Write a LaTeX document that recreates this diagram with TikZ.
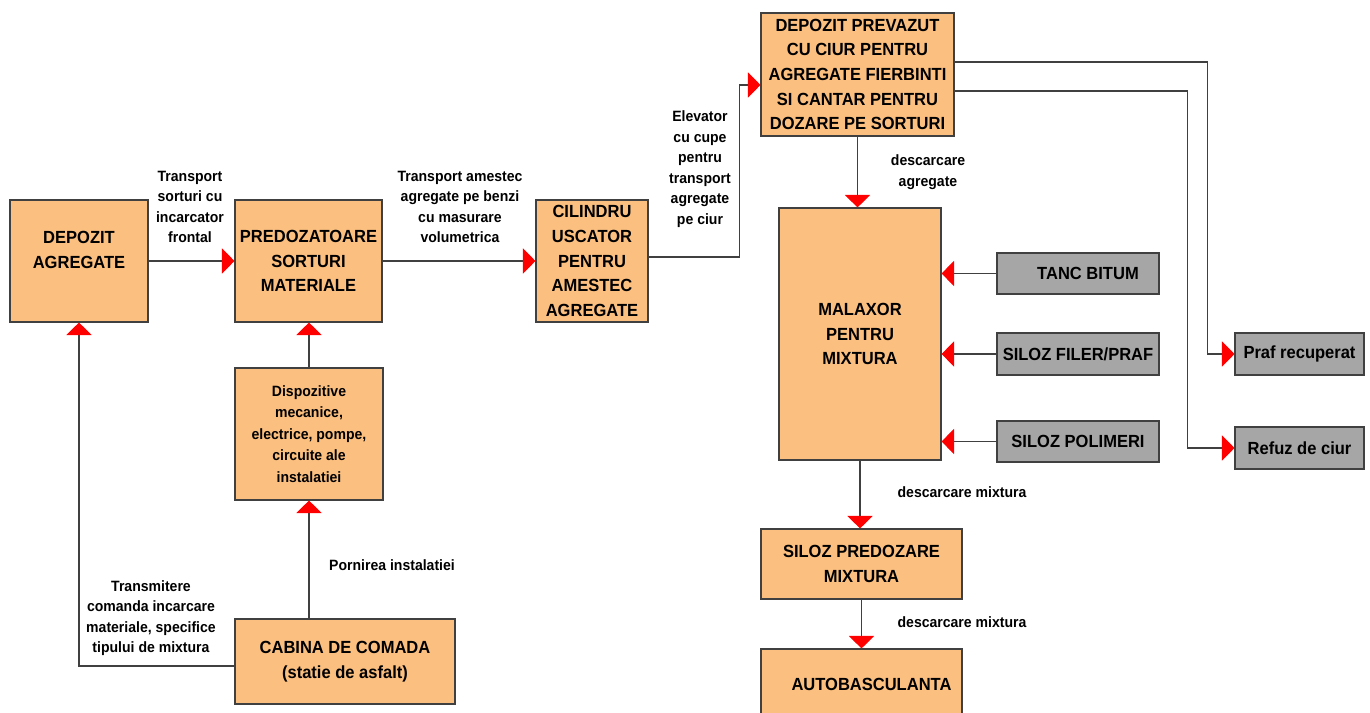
\documentclass[tikz,border=0pt]{standalone}
\usepackage{fontspec}
\setmainfont[FakeStretch=0.94]{Liberation Sans}
\usetikzlibrary{arrows.meta}

\definecolor{boxorange}{HTML}{FBBF80}
\definecolor{boxgray}{HTML}{A6A6A6}
\definecolor{linegray}{HTML}{404040}

\tikzset{
  orangebox/.style={draw=linegray, line width=0.6pt, fill=boxorange, inner sep=0pt, align=center,
                    font=\bfseries\fontsize{10}{14}\selectfont},
  graybox/.style={draw=linegray, line width=0.6pt, fill=boxgray, inner sep=0pt, align=center,
                  font=\bfseries\fontsize{10}{14}\selectfont},
  flow/.style={draw=linegray, line width=0.6pt, -{Triangle[length=2.5mm, width=5mm, red]}},
  lbl/.style={align=center, inner sep=0pt, font=\bfseries\fontsize{8.5}{11.7}\selectfont}
}

\begin{document}
\begin{tikzpicture}[x=0.2mm, y=-0.2mm]
                  \useasboundingbox (0,0) rectangle (1370,713);

                  \node[orangebox, minimum width=27.6mm, minimum height=24.4mm] (dep) at (79, 261) {DEPOZIT\\AGREGATE\\[-0.4mm]};
                  \node[orangebox, minimum width=29.4mm, minimum height=24.4mm] (predoz) at (308.5, 261) {PREDOZATOARE\\SORTURI\\MATERIALE};
                  \node[orangebox, minimum width=22.4mm, minimum height=24.4mm] (cil) at (592, 261) {CILINDRU\\USCATOR\\PENTRU\\AMESTEC\\AGREGATE};
                  \node[orangebox, minimum width=38.6mm, minimum height=24.6mm] (ciur) at (857.5, 74.5) {DEPOZIT PREVAZUT\\CU CIUR PENTRU\\AGREGATE FIERBINTI\\SI CANTAR PENTRU\\DOZARE PE SORTURI};
                  \node[orangebox, minimum width=32.4mm, minimum height=50.4mm] (malax) at (860, 334) {MALAXOR\\PENTRU\\MIXTURA};
                  \node[orangebox, minimum width=40.2mm, minimum height=14mm] (silpre) at (861.5, 564) {SILOZ PREDOZARE\\MIXTURA};
                  \node[orangebox, minimum width=40.2mm, minimum height=14.2mm] (auto) at (861.5, 684.5) {\hspace{4mm}AUTOBASCULANTA};
                  \node[orangebox, minimum width=29.6mm, minimum height=26.4mm,
                        font=\bfseries\fontsize{8.5}{12.3}\selectfont] (disp) at (309, 434) {Dispozitive\\mecanice,\\electrice, pompe,\\circuite ale\\instalatiei};
                  \node[orangebox, minimum width=44mm, minimum height=17mm] (cab) at (345, 661.5) {CABINA DE COMADA\\(statie de asfalt)};

                  \node[graybox, minimum width=32.4mm, minimum height=8.2mm] (bitum) at (1078, 273.5) {\hspace{4mm}TANC BITUM};
                  \node[graybox, minimum width=32.4mm, minimum height=8.4mm] (filer) at (1078, 354) {SILOZ FILER/PRAF};
                  \node[graybox, minimum width=32.4mm, minimum height=8.2mm] (polim) at (1078, 441.5) {SILOZ POLIMERI};
                  \node[graybox, minimum width=25.8mm, minimum height=8.4mm] (praf) at (1299.5, 354) {Praf recuperat};
                  \node[graybox, minimum width=25.8mm, minimum height=8.4mm] (refuz) at (1299.5, 448) {Refuz de ciur};

                  \draw[flow] (dep) -- (predoz);
                  \node[lbl] (lbltransport) at (190, 207) {Transport\\sorturi cu\\incarcator\\frontal};

                  \draw[flow] (predoz) -- (cil);
                  \node[lbl] (lblamestec) at (460, 207) {Transport amestec\\agregate pe benzi\\cu masurare\\volumetrica};

                  \draw[flow] ([yshift=0.8mm]cil.east) -- ++(91,0) |- ([yshift=-2.1mm]ciur.west);
                  \node[lbl] (lblelevator) at (700, 169) {Elevator\\cu cupe\\pentru\\transport\\agregate\\pe ciur};

                  \draw[flow] (ciur.south) -- (ciur.south |- malax.north);
                  \node[lbl] (lbldescagr) at (928, 172) {descarcare\\agregate};

                  \draw[flow] ([yshift=2.5mm]ciur.east) -- ++(253,0) |- (praf.west);
                  \draw[flow] ([yshift=-3.3mm]ciur.east) -- ++(233,0) |- (refuz.west);

                  \draw[flow] (bitum.west) -- (bitum.west -| malax.east);
                  \draw[flow] (filer.west) -- (filer.west -| malax.east);
                  \draw[flow] (polim.west) -- (polim.west -| malax.east);

                  \draw[flow] (malax.south) -- (malax.south |- silpre.north);
                  \node[lbl] (lbldescmix) at (962, 492) {descarcare mixtura};

                  \draw[flow] (silpre.south) -- (auto.north);
                  \node[lbl] (lbldescauto) at (962, 622) {descarcare mixtura};

                  \draw[flow] (disp.north) -- (disp.north |- predoz.south);
                  \draw[flow] (disp.south |- cab.north) -- (disp.south);
                  \node[lbl] (lblpornire) at (392, 565) {Pornirea instalatiei};

                  \draw[flow] ([yshift=-0.9mm]cab.west) -| (dep.south);
                  \node[lbl] (lblcomanda) at (151, 618) {Transmitere\\comanda incarcare\\materiale, specifice\\tipului de mixtura};
              \end{tikzpicture}
\end{document}
